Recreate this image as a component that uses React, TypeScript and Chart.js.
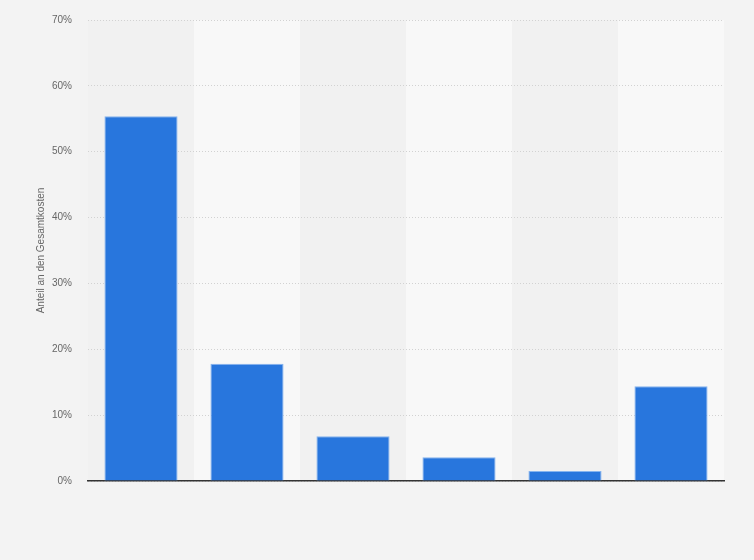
import React, { useEffect, useRef } from 'react';
import { Chart, registerables } from 'chart.js';

Chart.register(...registerables);

// categories are not labelled in the source chart
const categories = ['', '', '', '', '', ''];
const shares = [55.4, 17.8, 6.8, 3.6, 1.5, 14.4];
const yTicks = [0, 10, 20, 30, 40, 50, 60, 70];
const yTitle = 'Anteil an den Gesamtkosten';

const bandPlugin = {
  id: 'bands',
  beforeDraw(chart: any) {
    const { ctx, chartArea } = chart;
    const n = categories.length;
    const step = (chartArea.right - chartArea.left) / n;
    ctx.save();
    for (let i = 0; i < n; i++) {
      ctx.fillStyle = i % 2 === 0 ? '#f1f1f1' : '#f8f8f8';
      ctx.fillRect(chartArea.left + i * step, chartArea.top, step, chartArea.bottom - chartArea.top);
    }
    ctx.restore();
  }
};

const App = () => {
  const chartRef = useRef<HTMLCanvasElement>(null);

  useEffect(() => {
    if (!chartRef.current) return;
    const ctx = chartRef.current.getContext('2d');
    const chart = new Chart(ctx as any, {
      type: 'bar',
      data: {
        labels: categories,
        datasets: [
          {
            data: shares,
            backgroundColor: '#2876dd',
            borderColor: '#86b4ee',
            borderWidth: 1,
            categoryPercentage: 0.69,
            barPercentage: 1
          }
        ]
      },
      options: {
        animation: false,
        responsive: false,
        devicePixelRatio: 1,
        layout: { padding: { top: 20, right: 30, bottom: 79, left: 0 } },
        plugins: {
          legend: { display: false },
          tooltip: { enabled: false }
        },
        scales: {
          x: {
            ticks: { display: false },
            grid: { display: false, drawTicks: false },
            border: { display: true, color: '#333333', width: 1.5 }
          },
          y: {
            min: 0,
            max: 70,
            afterFit: (scale: any) => {
              scale.width = 88;
              scale.paddingTop = 0;
              scale.paddingBottom = 0;
            },
            afterBuildTicks: (scale: any) => {
              scale.ticks = yTicks.map((v) => ({ value: v }));
            },
            ticks: {
              padding: 16,
              color: '#666666',
              font: { family: 'Liberation Sans, Arial, sans-serif', size: 10 },
              callback: (v: any) => v + '%'
            },
            grid: {
              color: '#d2d2d2',
              drawTicks: false,
              lineWidth: 1
            },
            border: { display: false, dash: [1, 2] },
            title: {
              display: true,
              text: yTitle,
              color: '#666666',
              font: { family: 'Liberation Sans, Arial, sans-serif', size: 10 },
              padding: { top: 35, bottom: 0 }
            }
          }
        }
      },
      plugins: [bandPlugin]
    });
    return () => {
      chart.destroy();
    };
  }, []);

  return (
    <div style={{ position: 'fixed', left: 0, top: 0, width: 754, height: 560, background: '#f3f3f3' }}>
      <canvas ref={chartRef} width={754} height={560} style={{ width: 754, height: 560 }} />
    </div>
  );
};

export default App;
